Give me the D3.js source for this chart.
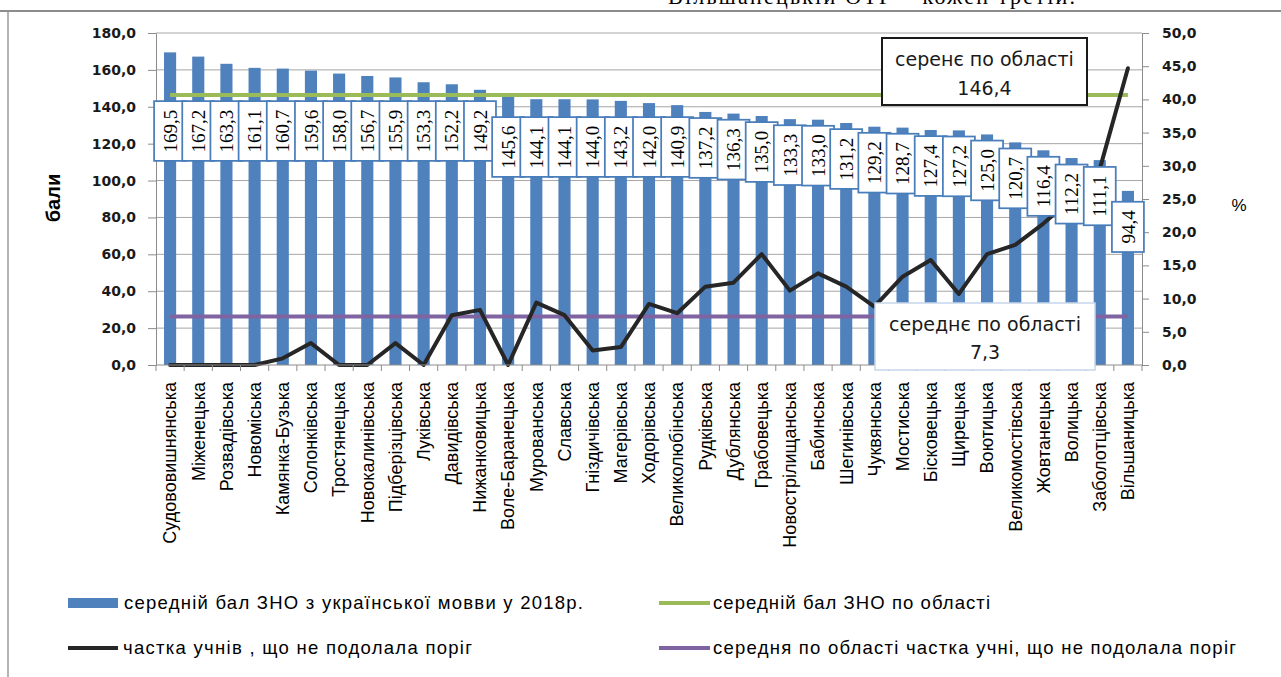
<!DOCTYPE html>
<html><head><meta charset="utf-8">
<script src="https://cdnjs.cloudflare.com/ajax/libs/d3/7.8.5/d3.min.js"></script>
<style>body{margin:0;background:#fff}svg{display:block}</style>
</head><body><svg id="c" width="1281" height="677"></svg>
<script>
const categories = ["Судововишнянська","Міженецька","Розвадівська","Новоміська","Камянка-Бузька","Солонківська","Тростянецька","Новокалинівська","Підберізцівська","Луківська","Давидівська","Нижанковицька","Воле-Баранецька","Мурованська","Славська","Гніздичівська","Магерівська","Ходорівська","Великолюбінська","Рудківська","Дублянська","Грабовецька","Новострілищанська","Бабинська","Шегинівська","Чуквянська","Мостиська","Бісковецька","Щирецька","Воютицька","Великомостівська","Жовтанецька","Волицька","Заболотцівська","Вільшаницька"];
const scores = [169.5,167.2,163.3,161.1,160.7,159.6,158.0,156.7,155.9,153.3,152.2,149.2,145.6,144.1,144.1,144.0,143.2,142.0,140.9,137.2,136.3,135.0,133.3,133.0,131.2,129.2,128.7,127.4,127.2,125.0,120.7,116.4,112.2,111.1,94.4];
const failShare = [0,0,0,0,1.0,3.3,0,0,3.3,0,7.5,8.3,0,9.4,7.5,2.2,2.7,9.2,7.8,11.8,12.4,16.7,11.2,13.8,11.8,8.8,13.3,15.8,10.7,16.7,18.1,21.3,25.0,29.5,44.7];
const regionScore = 146.4;
const regionFail = 7.3;
const leftTicks = [0,20,40,60,80,100,120,140,160,180];
const rightTicks = [0,5,10,15,20,25,30,35,40,45,50];
const legendLabels = ["середній бал ЗНО з української мовви у 2018р.","частка учнів , що не подолала поріг","середній бал ЗНО по області","середня по області частка учні, що не подолала поріг"];
const noteScore = ["серенє по області","146,4"];
const noteFail = ["середнє по області","7,3"];
const headerText = "Вільшанецькій ОТГ – кожен третій.";

const svg = d3.select("#c");
const fmt = d => d.toFixed(1).replace(".", ",");
const L = 156, R = 1142, T = 33, B = 365;
const x = d3.scaleBand().domain(categories).range([L, R]).paddingInner(0.57).paddingOuter(0.285);
const yL = d3.scaleLinear().domain([0,180]).range([B, T]);
const yR = d3.scaleLinear().domain([0,50]).range([B, T]);
const cx = c => x(c) + x.bandwidth()/2;
const step = x.step();

svg.append("rect").attr("width",1281).attr("height",677).attr("fill","#fff");

// header fragment and frame
svg.append("text").attr("x",668).attr("y",4).attr("font-family","Liberation Serif").attr("font-size",22)
  .attr("textLength",407).attr("lengthAdjust","spacing").text(headerText);
svg.append("line").attr("x1",0).attr("x2",1281).attr("y1",11).attr("y2",11).attr("stroke","#8c8c8c").attr("stroke-width",2);
svg.append("line").attr("x1",8).attr("x2",8).attr("y1",11).attr("y2",677).attr("stroke","#9a9a9a").attr("stroke-width",1.5);

// gridlines
svg.append("g").selectAll("line").data(leftTicks.filter(d=>d>0)).join("line")
  .attr("x1",L).attr("x2",R).attr("y1",d=>yL(d)).attr("y2",d=>yL(d))
  .attr("stroke","#a6a6a6").attr("stroke-width",1);

// bars
svg.append("g").selectAll("rect").data(scores).join("rect")
  .attr("x",(d,i)=>x(categories[i])).attr("width",x.bandwidth())
  .attr("y",d=>yL(d)).attr("height",d=>B-yL(d)).attr("fill","#4f81bd");

// average lines
const first = cx(categories[0]), last = cx(categories[categories.length-1]);
svg.append("line").attr("x1",first).attr("x2",last).attr("y1",yL(regionScore)).attr("y2",yL(regionScore))
  .attr("stroke","#9bbb59").attr("stroke-width",4);
svg.append("line").attr("x1",first).attr("x2",last).attr("y1",yR(regionFail)).attr("y2",yR(regionFail))
  .attr("stroke","#8064a2").attr("stroke-width",4);

// fail share line
svg.append("path").datum(failShare)
  .attr("d", d3.line().x((d,i)=>cx(categories[i])).y(d=>yR(d)))
  .attr("fill","none").attr("stroke","#262626").attr("stroke-width",4).attr("stroke-linejoin","round").attr("stroke-linecap","round");

// axes
const axisStyle = g => { g.selectAll("path,line").attr("stroke","#8c8c8c"); g.selectAll("text").attr("font-family","DejaVu Sans").attr("font-weight","bold").attr("font-size",14).attr("fill","#1a1a1a"); };
svg.append("g").attr("transform",`translate(${L},0)`)
  .call(d3.axisLeft(yL).tickValues(leftTicks).tickFormat(fmt).tickSize(8).tickSizeOuter(0).tickPadding(12))
  .call(axisStyle);
svg.append("g").attr("transform",`translate(${R},0)`)
  .call(d3.axisRight(yR).tickValues(rightTicks).tickFormat(fmt).tickSize(7).tickSizeOuter(0).tickPadding(13))
  .call(axisStyle);
// x axis line and ticks at category boundaries
svg.append("line").attr("x1",L).attr("x2",R).attr("y1",B).attr("y2",B).attr("stroke","#8c8c8c");
svg.append("g").selectAll("line").data(d3.range(categories.length+1)).join("line")
  .attr("x1",i=>L+i*step).attr("x2",i=>L+i*step).attr("y1",B).attr("y2",B+6).attr("stroke","#8c8c8c");
svg.append("g").selectAll("text").data(categories).join("text")
  .attr("transform",d=>`translate(${cx(d)},382) rotate(-90)`)
  .attr("dy","0.35em").attr("text-anchor","end")
  .attr("font-family","Liberation Sans").attr("font-size",18).attr("fill","#000").text(d=>d);

// axis titles
svg.append("text").attr("transform","translate(53,198) rotate(-90)").attr("dy","0.35em").attr("text-anchor","middle")
  .attr("font-family","Liberation Sans").attr("font-weight","bold").attr("font-size",20).text("бали");
svg.append("text").attr("x",1239).attr("y",205).attr("dy","0.35em").attr("text-anchor","middle")
  .attr("font-family","Liberation Sans").attr("font-size",17).text("%");

// data labels: above-average bars keep labels just under the average line, others sit inside the bar end
const labelY = d => d >= regionScore ? 131 : Math.max(147, yL(d) + 36);
const lab = svg.append("g").selectAll("g").data(scores).join("g")
  .attr("transform",(d,i)=>`translate(${cx(categories[i])},${labelY(d)})`);
lab.append("text").attr("transform","rotate(-90)").attr("dy","0.35em").attr("text-anchor","middle")
  .attr("font-family","Liberation Serif").attr("font-size",19).attr("fill","#000").text(fmt);
lab.each(function(){
  const g = d3.select(this); const len = g.select("text").node().getComputedTextLength();
  const h = len + 17;
  g.insert("rect","text").attr("x",-16).attr("y",-h/2).attr("width",32).attr("height",h)
    .attr("fill","#fff").attr("stroke","#4a7ebb").attr("stroke-width",1.75);
});

// annotation boxes
function note(x0,y0,w,h,lines,stroke,sw,base){
  const g = svg.append("g");
  g.append("rect").attr("x",x0).attr("y",y0).attr("width",w).attr("height",h).attr("fill","#fff").attr("stroke",stroke).attr("stroke-width",sw);
  lines.forEach((t,k)=>g.append("text").attr("x",x0+w/2).attr("y",base[k]).attr("text-anchor","middle")
    .attr("font-family","DejaVu Sans").attr("font-size",19).attr("fill","#1a1a1a").text(t));
}
note(882,38,205,67,noteScore,"#1a1a1a",2,[66,95]);
note(875,303,220,67,noteFail,"#c6d6ea",1.5,[331,359]);

// legend
const lg = svg.append("g").attr("font-family","Liberation Sans").attr("font-size",18.5).attr("fill","#000");
lg.append("rect").attr("x",68).attr("y",598).attr("width",50).attr("height",10).attr("fill","#4f81bd");
lg.append("line").attr("x1",68).attr("x2",118).attr("y1",648).attr("y2",648).attr("stroke","#262626").attr("stroke-width",4);
lg.append("line").attr("x1",659).attr("x2",710).attr("y1",603).attr("y2",603).attr("stroke","#9bbb59").attr("stroke-width",4);
lg.append("line").attr("x1",659).attr("x2",710).attr("y1",648).attr("y2",648).attr("stroke","#8064a2").attr("stroke-width",4);
const lp = [[124,603,459],[123,648,349],[713,603,277],[713,648,523]];
legendLabels.forEach((t,k)=>lg.append("text").attr("x",lp[k][0]).attr("y",lp[k][1]).attr("dy","0.35em")
  .attr("textLength",lp[k][2]).attr("lengthAdjust","spacing").text(t));
</script></body></html>
